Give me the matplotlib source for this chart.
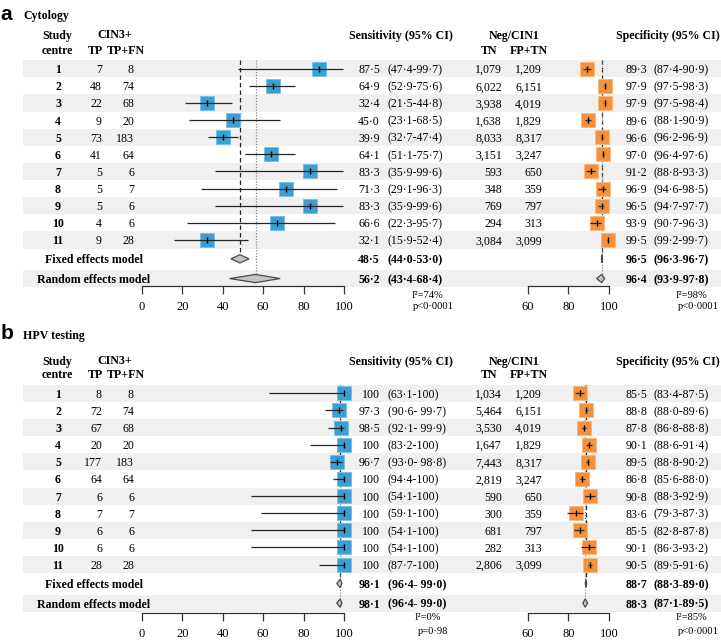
import matplotlib
matplotlib.use('Agg')
import matplotlib.pyplot as plt
from matplotlib.patches import Rectangle, Polygon
from matplotlib.transforms import blended_transform_factory

# ---------------- data ----------------
centres = [1, 2, 3, 4, 5, 6, 7, 8, 9, 10, 11]

cyto_tp = [7, 48, 22, 9, 73, 41, 5, 5, 5, 4, 9]
cyto_tpfn = [8, 74, 68, 20, 183, 64, 6, 7, 6, 6, 28]
cyto_sens = [87.5, 64.9, 32.4, 45.0, 39.9, 64.1, 83.3, 71.3, 83.3, 66.6, 32.1]
cyto_sens_lo = [47.4, 52.9, 21.5, 23.1, 32.7, 51.1, 35.9, 29.1, 35.9, 22.3, 15.9]
cyto_sens_hi = [99.7, 75.6, 44.8, 68.5, 47.4, 75.7, 99.6, 96.3, 99.6, 95.7, 52.4]
cyto_tn = [1079, 6022, 3938, 1638, 8033, 3151, 593, 348, 769, 294, 3084]
cyto_fptn = [1209, 6151, 4019, 1829, 8317, 3247, 650, 359, 797, 313, 3099]
cyto_spec = [89.3, 97.9, 97.9, 89.6, 96.6, 97.0, 91.2, 96.9, 96.5, 93.9, 99.5]
cyto_spec_lo = [87.4, 97.5, 97.5, 88.1, 96.2, 96.4, 88.8, 94.6, 94.7, 90.7, 99.2]
cyto_spec_hi = [90.9, 98.3, 98.4, 90.9, 96.9, 97.6, 93.3, 98.5, 97.7, 96.3, 99.7]
cyto_sens_fixed = (48.5, 44.0, 53.0)
cyto_sens_random = (56.2, 43.4, 68.4)
cyto_spec_fixed = (96.5, 96.3, 96.7)
cyto_spec_random = (96.4, 93.9, 97.8)
cyto_sens_het = ["I²=74%", "p<0·0001"]
cyto_spec_het = ["I²=98%", "p<0·0001"]

hpv_tp = [8, 72, 67, 20, 177, 64, 6, 7, 6, 6, 28]
hpv_tpfn = [8, 74, 68, 20, 183, 64, 6, 7, 6, 6, 28]
hpv_sens = [100, 97.3, 98.5, 100, 96.7, 100, 100, 100, 100, 100, 100]
hpv_sens_lo = [63.1, 90.6, 92.1, 83.2, 93.0, 94.4, 54.1, 59.1, 54.1, 54.1, 87.7]
hpv_sens_hi = [100, 99.7, 99.9, 100, 98.8, 100, 100, 100, 100, 100, 100]
hpv_tn = [1034, 5464, 3530, 1647, 7443, 2819, 590, 300, 681, 282, 2806]
hpv_fptn = [1209, 6151, 4019, 1829, 8317, 3247, 650, 359, 797, 313, 3099]
hpv_spec = [85.5, 88.8, 87.8, 90.1, 89.5, 86.8, 90.8, 83.6, 85.5, 90.1, 90.5]
hpv_spec_lo = [83.4, 88.0, 86.8, 88.6, 88.8, 85.6, 88.3, 79.3, 82.8, 86.3, 89.5]
hpv_spec_hi = [87.5, 89.6, 88.8, 91.4, 90.2, 88.0, 92.9, 87.3, 87.8, 93.2, 91.6]
hpv_sens_fixed = (98.1, 96.4, 99.0)
hpv_sens_random = (98.1, 96.4, 99.0)
hpv_spec_fixed = (88.7, 88.3, 89.0)
hpv_spec_random = (88.3, 87.1, 89.5)
hpv_sens_het = ["I²=0%", "p=0·98"]
hpv_spec_het = ["I²=85%", "p<0·0001"]

sens_ticks = [0, 20, 40, 60, 80, 100]
spec_ticks = [60, 80, 100]

# ---------------- layout / style ----------------
W, H, DPI = 721, 641, 100
ROW = 17.13
SERIF = ['Liberation Serif', 'DejaVu Serif']
plt.rcParams['font.family'] = SERIF
FS = 8.6
BLUE, BLUE_E = '#3d9fd1', '#7cc0e4'
ORANGE, ORANGE_E = '#f5903c', '#f9b880'
BAND = '#f0f0f0'
LINEC = '#262626'

fig = plt.figure(figsize=(W / DPI, H / DPI), dpi=DPI)


def fx(x):
    return x / W


def fy(y):
    return 1 - y / H


def fmt_v(v):
    return "100" if v == 100 else f"{v:.1f}".replace('.', '·')


def fmt_ci(lo, hi, gap):
    sep = '- ' if (gap and hi < 100) else '-'
    return f"({fmt_v(lo)}{sep}{fmt_v(hi)})"


def make_ax(xpx0, xpx1, lim, y_row1, axis_px):
    bot_idx = (axis_px - y_row1) / ROW
    top_px = y_row1 - 0.5 * ROW
    ax = fig.add_axes([fx(xpx0), fy(axis_px), fx(xpx1) - fx(xpx0), (axis_px - top_px) / H])
    ax.set_xlim(*lim)
    ax.set_ylim(bot_idx, -0.5)
    ax.patch.set_visible(False)
    for s in ['left', 'right', 'top']:
        ax.spines[s].set_visible(False)
    ax.spines['bottom'].set_bounds(lim[0], lim[1])
    ax.spines['bottom'].set_linewidth(0.9)
    ax.spines['bottom'].set_color('#333333')
    ax.set_yticks([])
    ax.tick_params(axis='x', direction='out', length=5.8, width=0.9, color='#333333',
                   labelsize=9, pad=5)
    return ax


FIX_I, RAN_I = 11.1, 12.25
DH = 0.24


def forest(ax, est, lo, hi, fixed, random, col, ecol, ticks):
    rows = list(range(len(est)))
    ax.set_xticks(ticks)
    ax.hlines(rows, lo, hi, color=LINEC, lw=0.9, zorder=3, clip_on=False)
    ax.plot(est, rows, 's', ms=9.8, mfc=col, mec=ecol, mew=0.7, zorder=2, clip_on=False)
    ax.plot(est, rows, '|', ms=3.8, mew=1.0, color='black', zorder=4, clip_on=False)
    ax.vlines(fixed[0], -0.5, FIX_I - DH, color='#222222', lw=0.9,
              linestyles=(0, (3.5, 2.5)), zorder=1)
    ax.vlines(random[0], -0.5, RAN_I - DH, color='#8a8a8a', lw=0.9,
              linestyles=(0, (1, 1.3)), zorder=1)
    for (e, l, h), yi in [(fixed, FIX_I), (random, RAN_I)]:
        ax.add_patch(Polygon([(l, yi), (e, yi - DH), (h, yi), (e, yi + DH)], closed=True,
                             facecolor='#c4c4c4', edgecolor='#4a4a4a', lw=0.9, zorder=5,
                             clip_on=False))


def panel(letter, title, y_row1, axis_px, lab_base, title_base, head_y,
          tp, tpfn, sens, slo, shi, tn, fptn, spec, splo, sphi,
          sfix, sran, pfix, pran, shet, phet, het_y, gap):
    ax_s = make_ax(142, 344, (0, 100), y_row1, axis_px)
    ax_p = make_ax(527.7, 609, (60, 100), y_row1, axis_px)
    tr = blended_transform_factory(fig.transFigure, ax_s.transData)

    # shaded bands
    for yi in [0, 2, 4, 6, 8, 10, RAN_I]:
        fig.add_artist(Rectangle((fx(23), yi - 0.5), 1 - fx(23), 1.0, transform=tr,
                                 facecolor=BAND, edgecolor='none', zorder=-5))

    forest(ax_s, sens, slo, shi, sfix, sran, BLUE, BLUE_E, sens_ticks)
    forest(ax_p, spec, splo, sphi, pfix, pran, ORANGE, ORANGE_E, spec_ticks)

    # titles
    fig.text(fx(0.5), fy(lab_base), letter, family=['Liberation Sans', 'DejaVu Sans'],
             fontweight='bold', fontsize=15, va='baseline', ha='left')
    fig.text(fx(23), fy(title_base), title, fontweight='bold', fontsize=FS,
             va='baseline', ha='left')
    h1, h2 = head_y
    hd = dict(fontweight='bold', fontsize=FS, va='center_baseline', ha='center')
    fig.text(fx(57), fy(h1), "Study", **hd)
    fig.text(fx(57), fy(h2), "centre", **hd)
    fig.text(fx(115), fy(h1), "CIN3+", **hd)
    fig.text(fx(95), fy(h2), "TP", **hd)
    fig.text(fx(126), fy(h2), "TP+FN", **hd)
    fig.text(fx(401), fy(h1), "Sensitivity (95% CI)", **hd)
    fig.text(fx(514), fy(h1), "Neg/CIN1", **hd)
    fig.text(fx(489), fy(h2), "TN", **hd)
    fig.text(fx(529), fy(h2), "FP+TN", **hd)
    fig.text(fx(667.5), fy(h1), "Specificity (95% CI)", **hd)

    kw = dict(transform=tr, fontsize=FS, va='center_baseline')
    for i in range(len(centres)):
        fig.text(fx(58), i, str(centres[i]), ha='center', fontweight='bold', **kw)
        fig.text(fx(102), i, f"{tp[i]:,}", ha='right', **kw)
        fig.text(fx(134), i, f"{tpfn[i]:,}", ha='right', **kw)
        fig.text(fx(380), i, fmt_v(sens[i]), ha='right', **kw)
        fig.text(fx(388), i, fmt_ci(slo[i], shi[i], gap), ha='left', **kw)
        fig.text(fx(502), i, f"{tn[i]:,}", ha='right', **kw)
        fig.text(fx(542), i, f"{fptn[i]:,}", ha='right', **kw)
        fig.text(fx(647), i, fmt_v(spec[i]), ha='right', **kw)
        fig.text(fx(653), i, fmt_ci(splo[i], sphi[i], False), ha='left', **kw)
    for name, yi, s, p in [("Fixed effects model", FIX_I, sfix, pfix),
                           ("Random effects model", RAN_I, sran, pran)]:
        fig.text(fx(94), yi, name, ha='center', fontweight='bold', **kw)
        fig.text(fx(380), yi, fmt_v(s[0]), ha='right', fontweight='bold', **kw)
        fig.text(fx(388), yi, fmt_ci(s[1], s[2], gap), ha='left', fontweight='bold', **kw)
        fig.text(fx(647), yi, fmt_v(p[0]), ha='right', fontweight='bold', **kw)
        fig.text(fx(653), yi, fmt_ci(p[1], p[2], False), ha='left', fontweight='bold', **kw)

    y1, y2 = het_y
    hk = dict(fontsize=7.6, ha='center', va='center')
    fig.text(fx(428), fy(y1), shet[0], **hk)
    fig.text(fx(433), fy(y2), shet[1], **hk)
    fig.text(fx(691), fy(y1), phet[0], **hk)
    fig.text(fx(698), fy(y2), phet[1], **hk)


panel('a', 'Cytology', 68.7, 285.7, 20, 19.5, (34, 49),
      cyto_tp, cyto_tpfn, cyto_sens, cyto_sens_lo, cyto_sens_hi,
      cyto_tn, cyto_fptn, cyto_spec, cyto_spec_lo, cyto_spec_hi,
      cyto_sens_fixed, cyto_sens_random, cyto_spec_fixed, cyto_spec_random,
      cyto_sens_het, cyto_spec_het, (296, 306.5), False)

panel('b', 'HPV testing', 393.3, 613.3, 339, 339, (360, 374),
      hpv_tp, hpv_tpfn, hpv_sens, hpv_sens_lo, hpv_sens_hi,
      hpv_tn, hpv_fptn, hpv_spec, hpv_spec_lo, hpv_spec_hi,
      hpv_sens_fixed, hpv_sens_random, hpv_spec_fixed, hpv_spec_random,
      hpv_sens_het, hpv_spec_het, (617, 631), True)

fig.savefig('out.png', dpi=DPI)
